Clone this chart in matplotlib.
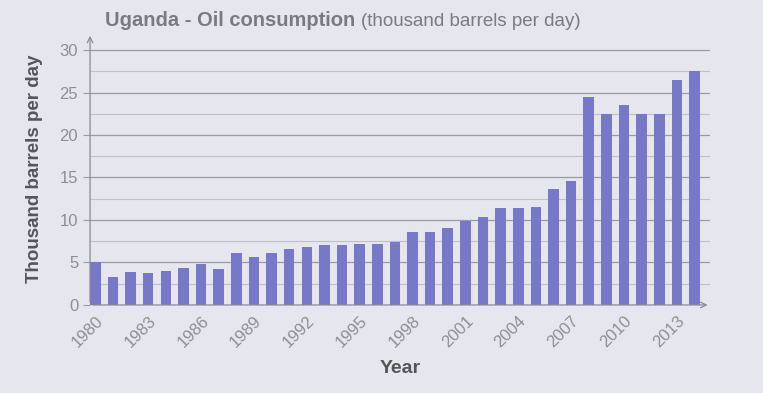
import numpy as np
import matplotlib
matplotlib.use('Agg')
import matplotlib.pyplot as plt

plt.rcParams['font.family'] = ['Liberation Sans', 'DejaVu Sans']

# data (thousand barrels per day)
years = list(range(1980, 2015))
consumption = [5.0, 3.3, 3.9, 3.8, 4.0, 4.4, 4.8, 4.2, 6.1, 5.6,
               6.1, 6.6, 6.8, 7.0, 7.1, 7.2, 7.2, 7.4, 8.6, 8.6,
               9.0, 9.9, 10.4, 11.4, 11.4, 11.5, 13.6, 14.6, 24.5, 22.5,
               23.5, 22.5, 22.5, 26.5, 27.5]
xtick_years = list(range(1980, 2014, 3))
yticks = [0, 5, 10, 15, 20, 25, 30]

bg = '#e6e6ee'
bar_color = '#7878c8'
text_gray = '#8e8e94'
label_gray = '#55555a'

fig = plt.figure(figsize=(7.63, 3.93), dpi=100, facecolor=bg)
ax = fig.add_axes([0.118, 0.224, 0.813, 0.692], facecolor=bg)

# grid: major every 5, minor every 2.5
for v in np.arange(2.5, 31, 2.5):
    major = (v % 5 == 0)
    ax.axhline(v, color='#9a9aa2' if major else '#c0c0c8',
               lw=0.9 if major else 0.8, zorder=1)

ax.bar(years, consumption, width=0.6, color=bar_color, zorder=2)

ax.set_xlim(1979.7, 2014.9)
ax.set_ylim(0, 32)

for s in ax.spines.values():
    s.set_visible(False)

# axis lines with arrows
ax.annotate('', xy=(1, 0), xycoords='axes fraction', xytext=(0, 0),
            arrowprops=dict(arrowstyle='->', color='#8a8a92', lw=0.9), zorder=3)
ax.annotate('', xy=(0, 1), xycoords='axes fraction', xytext=(0, 0),
            arrowprops=dict(arrowstyle='->', color='#8a8a92', lw=0.9), zorder=3)

ax.set_yticks(yticks)
ax.set_yticklabels([str(t) for t in yticks])
ax.tick_params(axis='y', colors='#9a9aa2', labelcolor=text_gray,
               labelsize=12, length=5, width=0.8)
ax.set_xticks(xtick_years)
ax.set_xticklabels([str(y) for y in xtick_years], rotation=45,
                   ha='right', rotation_mode='anchor')
ax.tick_params(axis='x', length=0, labelcolor=text_gray, labelsize=12, pad=6)

ax.set_xlabel('Year', fontsize=14, fontweight='bold', color=label_gray,
              labelpad=7)
ax.set_ylabel('Thousand barrels per day', fontsize=13.5, fontweight='bold',
              color=label_gray, labelpad=12)

# title: bold part + normal part
t1 = fig.text(0.138, 0.935, 'Uganda - Oil consumption', fontsize=14.5,
              fontweight='bold', color='#7a7a80', va='baseline')
fig.canvas.draw()
bb = t1.get_window_extent()
x2 = (bb.x1 + 5) / fig.bbox.width
fig.text(x2, 0.935, '(thousand barrels per day)', fontsize=13.5,
         color='#7a7a80', va='baseline')

fig.savefig('out.png', dpi=100, facecolor=bg)
